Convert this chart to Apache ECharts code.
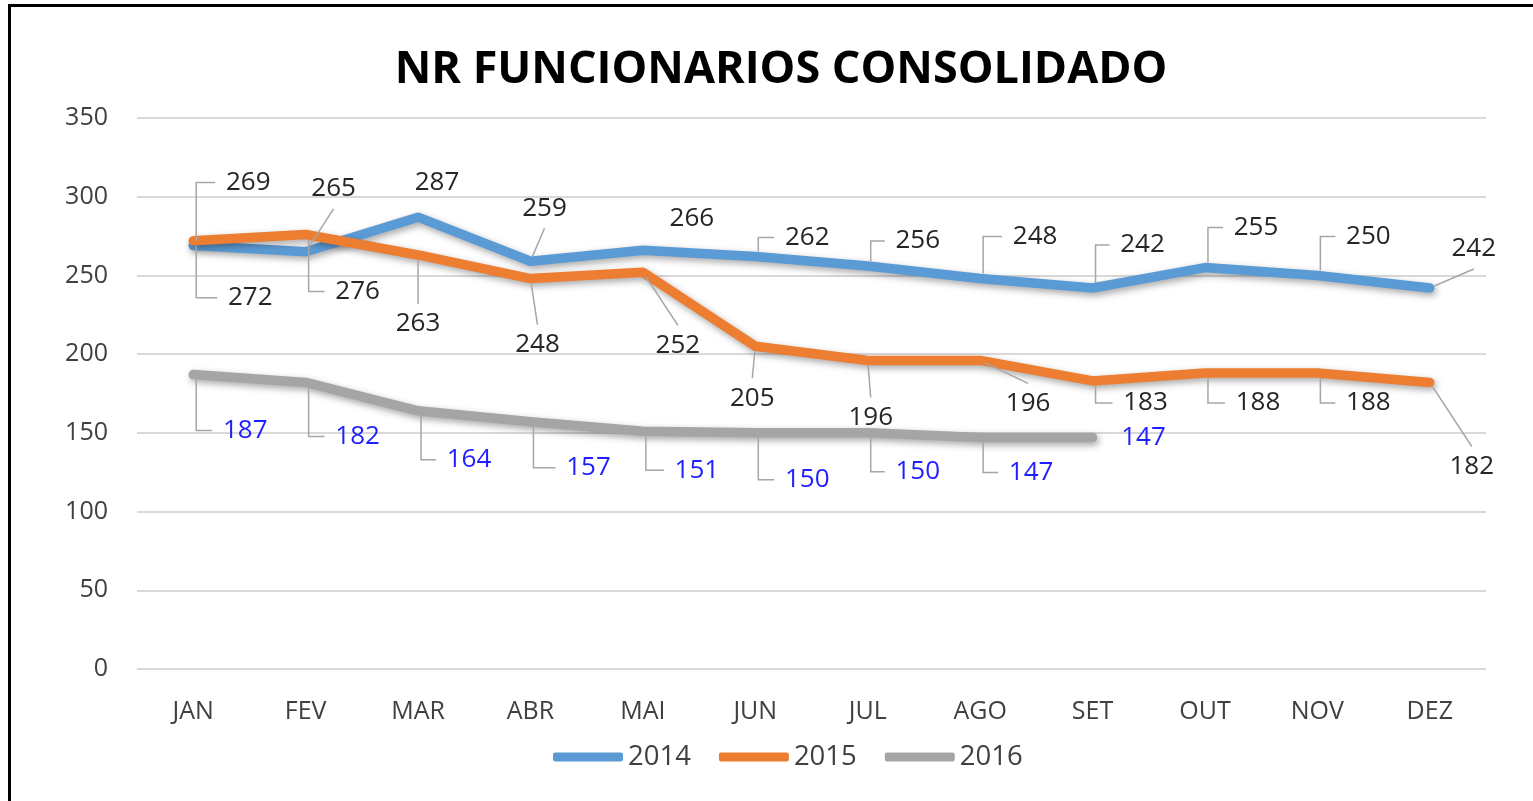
<!DOCTYPE html>
<html><head><meta charset="utf-8">
<script src="https://cdn.jsdelivr.net/npm/echarts@6/dist/echarts.min.js"></script>
<style>
html,body{margin:0;padding:0;width:1533px;height:801px;overflow:hidden;background:#fff;}
#chart{position:absolute;left:0;top:0;width:1562px;height:801px;}
#frame{position:absolute;left:8px;top:4px;width:1600px;height:900px;border-left:3px solid #000;border-top:3px solid #000;pointer-events:none;}
</style></head><body>
<div id="chart"></div><div id="frame"></div>
<script>
// ---- data ----
const months = ['JAN','FEV','MAR','ABR','MAI','JUN','JUL','AGO','SET','OUT','NOV','DEZ'];
const years = ['2014','2015','2016'];
const v2014 = [269,265,287,259,266,262,256,248,242,255,250,242];
const v2015 = [272,276,263,248,252,205,196,196,183,188,188,182];
const v2016 = [187,182,164,157,151,150,150,147,147];
const yMin = 0, yMax = 350, yStep = 50;

// ---- label placement (pixel offsets from the point, leader kind) ----
const lay2014 = [[55,-63,'e'],[28,-63,'l'],[19,-35,'n'],[14,-53,'l'],[49,-32,'n'],[52,-19,'e'],[50,-25,'e'],[55,-42,'e'],[50,-43,'e'],[51,-40,'e'],[51,-39,'e'],[44,-39,'l']];
const lay2015 = [[57,57,'e'],[52,57,'e'],[0,69,'l'],[7,66,'l'],[35,73,'l'],[-3,52,'l'],[3,57,'l'],[48,43,'l'],[53,22,'e'],[53,30,'e'],[51,30,'e'],[42,84,'l']];
const lay2016 = [[52,56,'e'],[52,54,'e'],[51,49,'e'],[58,46,'e'],[54,39,'e'],[52,47,'e'],[50,39,'e'],[51,35,'e'],[51,0,'n']];

const FONT = '"Open Sans", "Liberation Sans", sans-serif';
const colors = {'2014':'#5b9bd5','2015':'#ed7d31','2016':'#a5a5a5'};
const LEADER = '#a6a6a6';

function lineSeries(name, values){
  return {
    type:'line', name:name, data:values, symbol:'none', z:2,
    lineStyle:{width:9.5,color:colors[name],cap:'round',join:'round',
      shadowColor:'rgba(0,0,0,0.35)',shadowBlur:7,shadowOffsetX:2,shadowOffsetY:3},
    itemStyle:{color:colors[name]},
    emphasis:{disabled:true}
  };
}
function labelSeries(name, values, layout, txtColor){
  return {
    type:'custom', name:'lbl'+name, z:5, silent:true,
    data: values.map((v,i)=>[i,v]),
    encode:{x:0,y:1},
    renderItem:function(params, api){
      const i = api.value(0), v = api.value(1);
      const p = api.coord([i, v]);
      const L = layout[params.dataIndex];
      const cx = p[0]+L[0], cy = p[1]+L[1];
      const s = L[1] < 0 ? -1 : 1;
      const children = [];
      if (L[2] === 'e') {
        const x0 = p[0]+3;
        children.push({type:'polyline', shape:{points:[[x0,p[1]+s*5],[x0,cy],[cx-33,cy]]},
          style:{stroke:LEADER,lineWidth:1.5,fill:null}});
      } else if (L[2] === 'l') {
        const ex = cx, ey = cy - s*20;
        const vx = ex-p[0], vy = ey-p[1], len = Math.sqrt(vx*vx+vy*vy) || 1;
        children.push({type:'line', shape:{x1:p[0]+vx/len*5,y1:p[1]+vy/len*5,x2:ex,y2:ey},
          style:{stroke:LEADER,lineWidth:1.5}});
      }
      children.push({type:'text', x:cx, y:cy, style:{text:String(v), fill:txtColor,
        font:'26px '+FONT, align:'center', verticalAlign:'middle'}});
      return {type:'group', children:children};
    }
  };
}

const chart = echarts.init(document.getElementById('chart'), null, {renderer:'canvas'});
chart.setOption({
  animation:false,
  backgroundColor:'#fff',
  title:{text:'NR FUNCIONARIOS CONSOLIDADO', left:'center', top:43,
    textStyle:{fontFamily:FONT,fontSize:45,fontWeight:'bold',color:'#000'}},
  legend:{data:years, left:548, top:738, icon:'roundRect', itemWidth:70, itemHeight:9, itemGap:28,
    textStyle:{fontFamily:FONT,fontSize:27.5,color:'#404040'}},
  grid:{left:137,right:76,top:118,bottom:132,containLabel:false},
  xAxis:{type:'category',data:months,boundaryGap:true,
    axisLine:{show:false},axisTick:{show:false},
    axisLabel:{fontFamily:FONT,fontSize:25,color:'#404040',margin:30}},
  yAxis:{type:'value',min:yMin,max:yMax,interval:yStep,
    axisLine:{show:false},axisTick:{show:false},
    axisLabel:{fontFamily:FONT,fontSize:25,color:'#404040',margin:29},
    splitLine:{lineStyle:{color:'#d9d9d9',width:2}}},
  series:[
    lineSeries('2014', v2014),
    lineSeries('2015', v2015),
    lineSeries('2016', v2016),
    labelSeries('2014', v2014, lay2014, '#262626'),
    labelSeries('2015', v2015, lay2015, '#262626'),
    labelSeries('2016', v2016, lay2016, '#1f1fff')
  ]
});
</script>
</body></html>
